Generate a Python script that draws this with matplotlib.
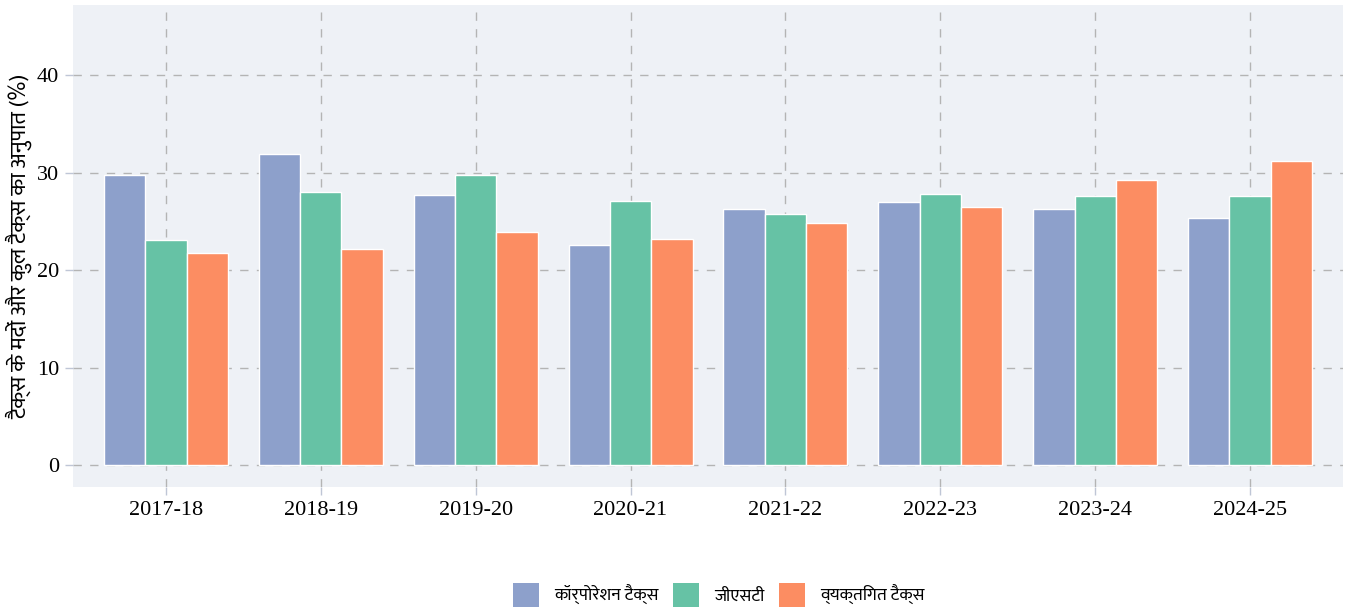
import numpy as np
import matplotlib
matplotlib.use("Agg")
import matplotlib.pyplot as plt
from matplotlib import font_manager
from matplotlib.ft2font import FT2Font
from matplotlib.patches import Patch

# डेटा: टैक्स के मदों का कुल टैक्स में अनुपात (%)
years = ["2017-18", "2018-19", "2019-20", "2020-21",
         "2021-22", "2022-23", "2023-24", "2024-25"]
corporate = [29.8, 31.9, 27.7, 22.6, 26.3, 27.0, 26.3, 25.4]
gst = [23.1, 28.0, 29.8, 27.1, 25.8, 27.8, 27.6, 27.6]
personal = [21.8, 22.2, 23.9, 23.2, 24.8, 26.5, 29.2, 31.2]

series_names = ["कॉर्पोरेशन टैक्स", "जीएसटी", "व्यक्तिगत टैक्स"]
colors = ["#8DA0CB", "#66C2A5", "#FC8D62"]
y_label = "टैक्स के मदों और कुल टैक्स का अनुपात (%)"


def find_devanagari_font():
    """ऐसा फ़ॉन्ट खोजें जिसमें देवनागरी अक्षर हों"""
    preferred = []
    others = []
    for path in font_manager.findSystemFonts():
        try:
            ft = FT2Font(path)
            if ord("क") in ft.get_charmap():
                name = font_manager.FontProperties(fname=path).get_name()
                if "Devanagari" in name or "Mukta" in name or "Lohit" in name:
                    preferred.append(name)
                else:
                    others.append(name)
        except Exception:
            continue
    found = preferred + others
    return found[0] if found else None


deva = find_devanagari_font()
serif_family = ["Liberation Serif", "DejaVu Serif"]
hindi_family = ([deva] if deva else []) + ["DejaVu Sans"]

plt.rcParams["font.family"] = serif_family

fig = plt.figure(figsize=(13.51, 6.10), dpi=100)
ax = fig.add_axes([0.054, 0.2016, 0.9401, 0.7902])
ax.set_facecolor("#EEF1F6")

x = np.arange(len(years))
width = 0.8 / 3
for i, (vals, col) in enumerate(zip([corporate, gst, personal], colors)):
    ax.bar(x + (i - 1) * width, vals, width, color=col,
           edgecolor="white", linewidth=1.0, zorder=3)

ax.set_xlim(-0.6, len(years) - 0.4)
ax.set_ylim(-2.25, 47.2)
ax.set_yticks([0, 10, 20, 30, 40])
ax.set_xticks(x)
ax.set_xticklabels(years)

ax.grid(True, color="#B4B4B4", linestyle=(0, (6, 6)), linewidth=1.0, zorder=0)
ax.set_axisbelow(True)
for s in ax.spines.values():
    s.set_visible(False)
ax.tick_params(axis="both", labelsize=16, length=6, width=1.0,
               color="#BFC6D6", pad=4)

ax.set_ylabel(y_label, family=hindi_family, fontsize=16.2, labelpad=3)

handles = [Patch(facecolor=c, edgecolor="none") for c in colors]
leg = fig.legend(handles, series_names, loc="center", ncol=3,
                 bbox_to_anchor=(0.532, 0.025), frameon=False,
                 prop={"family": hindi_family, "size": 12.7},
                 handlelength=1.5, handleheight=1.75, columnspacing=0.8,
                 handletextpad=0.85)

fig.savefig("out.png", dpi=100)
